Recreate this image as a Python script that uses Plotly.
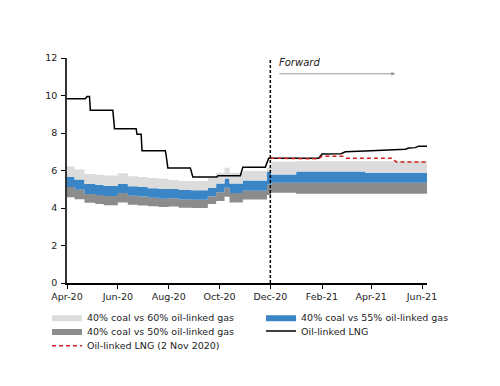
import plotly.graph_objects as go

# ---- Data ----
band_dates = ["2020-04-01", "2020-04-10", "2020-04-22", "2020-05-05", "2020-05-15", "2020-06-01",
              "2020-06-13", "2020-06-25", "2020-07-07", "2020-07-20", "2020-08-01", "2020-08-13",
              "2020-08-28", "2020-09-17", "2020-09-27", "2020-10-07", "2020-10-13", "2020-10-29",
              "2020-11-27", "2020-12-02", "2021-01-01", "2021-03-25", "2021-06-07"]
light_top = [6.22, 6.05, 5.82, 5.78, 5.74, 5.85, 5.70, 5.66, 5.60, 5.56, 5.50, 5.44,
             5.44, 5.60, 5.88, 6.15, 5.88, 5.97, 6.15, 6.47, 6.50, 6.50, 6.50]
blue_top = [5.65, 5.52, 5.28, 5.24, 5.18, 5.30, 5.16, 5.12, 5.06, 5.02, 5.02, 4.96,
            4.95, 5.08, 5.31, 5.58, 5.31, 5.47, 5.95, 5.79, 5.94, 5.88, 5.88]
blue_bottom = [5.12, 4.98, 4.75, 4.70, 4.64, 4.80, 4.66, 4.62, 4.55, 4.50, 4.52, 4.45,
               4.44, 4.63, 4.84, 5.08, 4.80, 4.92, 5.25, 5.35, 5.35, 5.35, 5.35]
dark_bottom = [4.58, 4.47, 4.28, 4.22, 4.15, 4.30, 4.17, 4.13, 4.09, 4.06, 4.08, 4.01,
               4.00, 4.22, 4.37, 4.60, 4.30, 4.45, 4.70, 4.82, 4.76, 4.76, 4.76]

lng_dates = ["2020-04-01", "2020-04-23", "2020-04-25", "2020-04-28", "2020-04-29", "2020-05-26",
             "2020-05-28", "2020-06-23", "2020-06-24", "2020-06-29", "2020-06-30", "2020-07-28",
             "2020-07-29", "2020-07-31", "2020-08-27", "2020-08-30", "2020-09-28", "2020-09-29",
             "2020-10-26", "2020-10-29", "2020-11-25", "2020-11-29", "2021-01-28", "2021-02-01",
             "2021-02-24", "2021-03-01", "2021-04-01", "2021-04-25", "2021-05-12", "2021-05-16",
             "2021-05-24", "2021-05-28", "2021-06-07"]
lng_values = [9.83, 9.83, 9.95, 9.95, 9.22, 9.22, 8.23, 8.23, 7.93, 7.93, 7.05, 7.05,
              6.80, 6.14, 6.14, 5.65, 5.65, 5.72, 5.72, 6.18, 6.18, 6.66, 6.66, 6.88,
              6.90, 7.00, 7.05, 7.10, 7.13, 7.20, 7.22, 7.30, 7.30]

lng_nov_dates = ["2020-12-01", "2021-01-01", "2021-01-28", "2021-02-01", "2021-02-26", "2021-03-02",
                 "2021-04-26", "2021-05-01", "2021-06-07"]
lng_nov_values = [6.66, 6.62, 6.62, 6.76, 6.76, 6.66, 6.66, 6.46, 6.46]

tick_vals = ["2020-04-01", "2020-06-01", "2020-08-01", "2020-10-01", "2020-12-01",
             "2021-02-01", "2021-04-01", "2021-06-01"]
tick_text = ["Apr-20", "Jun-20", "Aug-20", "Oct-20", "Dec-20", "Feb-21", "Apr-21", "Jun-21"]
forward_start = "2020-12-01"

FONT = "DejaVu Sans"
FS = 9.5
TXT = "#222"

fig = go.Figure()
fig.add_trace(go.Scatter(x=band_dates, y=dark_bottom, mode="lines", line=dict(width=0, shape="hv"),
                         showlegend=False, hoverinfo="skip"))
fig.add_trace(go.Scatter(x=band_dates, y=blue_bottom, mode="lines", line=dict(width=0, shape="hv"),
                         fill="tonexty", fillcolor="#8c8c8c", name="40% coal vs 50% oil-linked gas",
                         legend="legend2"))
fig.add_trace(go.Scatter(x=band_dates, y=blue_top, mode="lines", line=dict(width=0, shape="hv"),
                         fill="tonexty", fillcolor="#3a85c6", name="40% coal vs 55% oil-linked gas",
                         legend="legend4"))
fig.add_trace(go.Scatter(x=band_dates, y=light_top, mode="lines", line=dict(width=0, shape="hv"),
                         fill="tonexty", fillcolor="#dcdcdc", name="40% coal vs 60% oil-linked gas",
                         legend="legend"))
fig.add_trace(go.Scatter(x=lng_dates, y=lng_values, mode="lines", line=dict(color="black", width=1.5),
                         name="Oil-linked LNG", legend="legend5"))
fig.add_trace(go.Scatter(x=lng_nov_dates, y=lng_nov_values, mode="lines",
                         line=dict(color="#d62020", width=1.5, dash="4px,3px"),
                         name="Oil-linked LNG (2 Nov 2020)", legend="legend3"))

fig.add_shape(type="line", xref="x", yref="y", x0=forward_start, x1=forward_start, y0=0, y1=12,
              line=dict(color="black", width=1.5, dash="3px,2px"))

fig.add_annotation(x="2021-04-30", y=11.16, ax="2020-12-10", ay=11.16, xref="x", yref="y",
                   axref="x", ayref="y", showarrow=True, arrowhead=2, arrowsize=0.8,
                   arrowwidth=1, arrowcolor="#999999", text="")
fig.add_annotation(x="2020-12-09", y=11.77, xref="x", yref="y", text="<i>Forward</i>",
                   showarrow=False, xanchor="left", yanchor="middle",
                   font=dict(family=FONT, size=10, color=TXT))

legend_common = dict(orientation="v", yanchor="middle", xanchor="left", bgcolor="rgba(0,0,0,0)",
                     font=dict(size=FS, family=FONT, color=TXT), itemwidth=30)
col1, col2 = -0.0556, 0.539
row1, row2, row3 = -0.152, -0.213, -0.279

fig.update_layout(
    width=500, height=386,
    margin=dict(l=59, r=81, t=50, b=111, autoexpand=False),
    plot_bgcolor="white", paper_bgcolor="white",
    font=dict(family=FONT, size=FS, color=TXT),
    xaxis=dict(range=["2020-04-01", "2021-06-07"], tickvals=tick_vals, ticktext=tick_text,
               showgrid=False, showline=True, linecolor="black", linewidth=1.5,
               ticks="outside", ticklen=4, tickcolor="black", zeroline=False),
    yaxis=dict(range=[0, 12], dtick=2, showgrid=False, showline=True, linecolor="#333",
               linewidth=1.5, ticks="outside", ticklen=4, tickcolor="black", zeroline=False,
               ticklabelstandoff=2),
    legend=dict(x=col1, y=row1, **legend_common),
    legend2=dict(x=col1, y=row2, **legend_common),
    legend3=dict(x=col1, y=row3, **legend_common),
    legend4=dict(x=col2, y=row1, **legend_common),
    legend5=dict(x=col2, y=row2, **legend_common),
    showlegend=True,
)

fig.write_html("out.html")
